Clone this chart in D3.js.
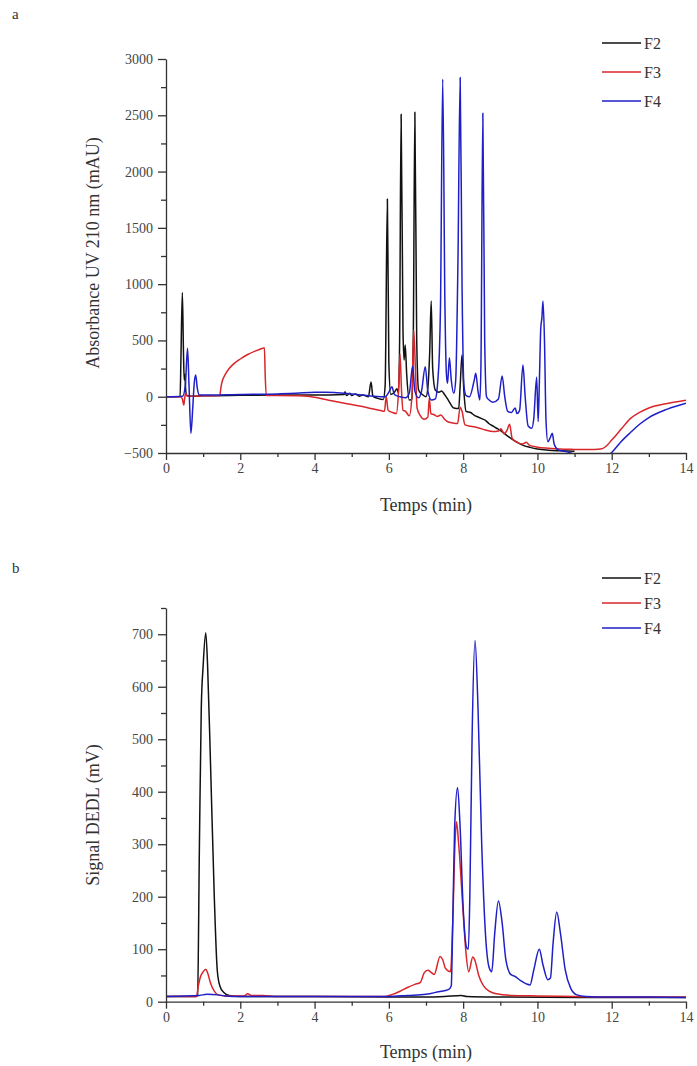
<!DOCTYPE html>
<html><head><meta charset="utf-8">
<script src="https://cdn.jsdelivr.net/npm/d3@7"></script>
<style>body{margin:0;background:#fff}svg{display:block}text{font-family:"Liberation Serif","DejaVu Serif",serif}</style>
</head><body>
<svg id="c" width="697" height="1066"></svg>
<script>
// ---------- DATA ----------
const seriesNames = ["F2", "F3", "F4"];
const seriesColors = ["#111111", "#d8262a", "#1f1fc8"];
const xTicksMajor = [0, 2, 4, 6, 8, 10, 12, 14];
const yTicksA = [-500, 0, 500, 1000, 1500, 2000, 2500, 3000];
const yTicksB = [0, 100, 200, 300, 400, 500, 600, 700];

// Panel a: UV 210 nm (time min, mAU)
const uvF2 = [[0,0],[0.38,2],[0.40,300],[0.44,925],[0.47,400],[0.49,150],[0.51,200],[0.53,60],[0.56,10],[0.7,5],[1,8],[2,12],[3,15],[4,15],[4.8,20],[4.82,45],[4.86,10],[4.95,30],[5.0,10],[5.1,25],[5.2,5],[5.3,15],[5.45,0],[5.52,130],[5.57,5],[5.7,-15],[5.85,-25],[5.9,100],[5.96,1757],[6.0,300],[6.05,20],[6.15,40],[6.22,70],[6.26,30],[6.29,500],[6.33,2510],[6.38,600],[6.41,326],[6.44,460],[6.48,200],[6.55,-30],[6.62,-20],[6.66,600],[6.70,2528],[6.75,500],[6.8,60],[6.9,20],[7.0,0],[7.05,80],[7.1,400],[7.14,851],[7.18,250],[7.25,60],[7.35,40],[7.42,50],[7.5,20],[7.6,-30],[7.75,-100],[7.88,-105],[7.92,100],[7.97,371],[8.02,50],[8.08,-130],[8.2,-140],[8.3,-165],[8.4,-180],[8.5,-195],[8.6,-210],[8.7,-240],[8.8,-260],[8.9,-280],[9.0,-300],[9.2,-350],[9.4,-395],[9.6,-430],[9.8,-450],[10,-465],[10.3,-475],[10.6,-480],[11,-485]];
const uvF3 = [[0,0],[0.4,0],[0.44,-20],[0.48,-74],[0.5,-20],[0.53,30],[0.56,10],[0.6,5],[1.0,8],[1.45,10],[1.47,60],[1.5,120],[1.6,200],[1.7,250],[1.8,285],[2.0,335],[2.2,375],[2.4,405],[2.6,430],[2.65,435],[2.67,200],[2.7,10],[3,10],[3.5,8],[3.8,5],[4.0,-5],[4.3,-25],[4.6,-45],[5.0,-70],[5.4,-95],[5.8,-125],[5.88,-130],[5.93,0],[5.98,-120],[6.1,-140],[6.2,-150],[6.26,50],[6.3,380],[6.34,60],[6.38,-120],[6.45,-130],[6.55,-170],[6.62,0],[6.67,593],[6.72,200],[6.76,-100],[6.85,-170],[6.95,-200],[7.05,-180],[7.09,-12],[7.13,-150],[7.22,-160],[7.3,-175],[7.4,-163],[7.5,-200],[7.6,-225],[7.75,-235],[7.85,-238],[7.92,-93],[7.97,-130],[8.05,-250],[8.2,-262],[8.4,-275],[8.6,-295],[8.8,-310],[8.95,-305],[9.02,-285],[9.1,-330],[9.18,-300],[9.25,-245],[9.32,-370],[9.45,-405],[9.6,-420],[9.7,-405],[9.78,-430],[10,-448],[10.3,-458],[10.6,-465],[11,-468],[11.4,-470],[11.7,-465],[11.85,-440],[12,-385],[12.25,-290],[12.5,-195],[12.75,-140],[13,-100],[13.5,-60],[14,-32]];
const uvF4 = [[0,0],[0.45,5],[0.52,100],[0.58,430],[0.62,100],[0.67,-325],[0.72,-100],[0.76,120],[0.8,193],[0.84,80],[0.9,15],[1.0,15],[2,20],[3,25],[3.5,30],[4.0,40],[4.3,40],[4.6,35],[5.0,25],[5.3,15],[5.6,5],[5.9,0],[6.0,40],[6.08,89],[6.15,20],[6.3,0],[6.45,-10],[6.55,30],[6.64,273],[6.7,50],[6.8,-10],[6.88,50],[6.98,267],[7.05,50],[7.15,-30],[7.25,-20],[7.32,150],[7.36,388],[7.39,800],[7.45,2821],[7.51,800],[7.55,200],[7.58,119],[7.63,347],[7.68,150],[7.75,30],[7.8,150],[7.86,1200],[7.92,2836],[7.97,1000],[8.02,100],[8.08,10],[8.17,0],[8.3,150],[8.34,208],[8.4,50],[8.45,-30],[8.48,300],[8.53,2519],[8.58,500],[8.63,0],[8.7,-30],[8.8,-50],[8.95,-20],[9.05,184],[9.12,0],[9.2,-130],[9.3,-140],[9.4,-100],[9.45,-150],[9.52,-120],[9.61,282],[9.67,0],[9.75,-260],[9.85,-280],[9.9,-200],[9.98,172],[10.02,-220],[10.05,100],[10.09,608],[10.12,700],[10.15,851],[10.19,500],[10.23,-200],[10.28,-400],[10.35,-360],[10.40,-325],[10.45,-420],[10.55,-470],[10.8,-490],[11.0,-510],[11.5,-560],[11.95,-510],[12.0,-495],[12.25,-400],[12.5,-320],[12.75,-245],[13,-185],[13.5,-110],[14,-58]];

// Panel b: ELSD / DEDL (time min, mV)
const elsdF2 = [[0,10],[0.8,10],[0.85,12],[0.9,300],[0.95,560],[1.0,640],[1.07,703],[1.12,640],[1.2,450],[1.3,200],[1.38,60],[1.45,30],[1.55,18],[1.7,12],[2,10],[4,10],[6,9],[7,9],[7.5,10],[7.95,12],[8.1,10],[9,9],[12,8],[14,8]];
const elsdF3 = [[0,10],[0.82,10],[0.87,30],[0.93,48],[1.0,57],[1.07,62],[1.12,55],[1.2,35],[1.3,20],[1.4,13],[1.6,11],[2.1,11],[2.2,15],[2.3,12],[2.6,12],[3,10],[5,10],[5.9,10],[6.1,14],[6.3,20],[6.5,27],[6.7,33],[6.85,37],[6.95,55],[7.05,60],[7.12,57],[7.22,52],[7.38,86],[7.45,80],[7.52,64],[7.66,57],[7.72,150],[7.78,300],[7.82,343],[7.88,300],[7.99,181],[8.08,90],[8.15,57],[8.26,85],[8.32,78],[8.42,50],[8.55,30],[8.7,20],[8.9,15],[9.3,12],[10,11],[11,10],[12,9],[14,9]];
const elsdF4 = [[0,10],[0.9,12],[1.1,14],[1.4,13],[1.6,11],[2,10],[4,10],[6,10],[6.5,12],[7.0,14],[7.34,19],[7.6,23],[7.68,30],[7.72,150],[7.77,330],[7.85,408],[7.92,330],[8.0,180],[8.1,102],[8.14,100],[8.18,200],[8.24,500],[8.32,688],[8.4,560],[8.5,300],[8.6,130],[8.7,65],[8.77,57],[8.85,130],[8.95,192],[9.05,150],[9.15,80],[9.28,52],[9.4,48],[9.55,40],[9.7,34],[9.8,32],[9.9,60],[10.05,100],[10.15,70],[10.28,42],[10.35,45],[10.42,110],[10.52,171],[10.62,130],[10.75,60],[10.9,25],[11.06,13],[11.3,10],[12,9],[13,9],[14,8]];

// ---------- DRAW ----------
const svg = d3.select("#c");
const X0 = 166, X1 = 686;

function panel(opts) {
  const x = d3.scaleLinear([0, 14], [X0, X1]);
  const y = d3.scaleLinear(opts.yDomain, opts.yRange);
  const g = svg.append("g");
  const cid = "clip" + opts.id;
  svg.append("defs").append("clipPath").attr("id", cid)
    .append("rect").attr("x", X0).attr("y", opts.yRange[1])
    .attr("width", X1 - X0).attr("height", opts.yRange[0] - opts.yRange[1]);

  const line = d3.line().x(d => x(d[0])).y(d => y(d[1])).curve(opts.curve);
  const lines = g.append("g").attr("clip-path", `url(#${cid})`);
  opts.data.forEach((s, i) => {
    lines.append("path").attr("d", line(s)).attr("fill", "none")
      .attr("stroke", seriesColors[i]).attr("stroke-width", 1.5)
      .attr("stroke-linejoin", "round");
  });

  // axes
  const axCol = "#333";
  const xMinor = d3.range(1, 14, 2);
  const gx = g.append("g").attr("transform", `translate(0,${opts.yRange[0]})`);
  gx.call(d3.axisBottom(x).tickValues(xTicksMajor).tickSize(7).tickSizeOuter(0).tickPadding(3).tickFormat(d3.format("d")));
  gx.append("g").call(d3.axisBottom(x).tickValues(xMinor).tickSize(4).tickSizeOuter(0).tickFormat(""))
    .select(".domain").remove();
  const gy = g.append("g").attr("transform", `translate(${X0},0)`);
  gy.call(d3.axisLeft(y).tickValues(opts.yTicks).tickSize(8).tickSizeOuter(0).tickPadding(5).tickFormat(d3.format("d")));
  gy.append("g").call(d3.axisLeft(y).tickValues(opts.yMinor).tickSize(5).tickSizeOuter(0).tickFormat(""))
    .select(".domain").remove();
  [gx, gy].forEach(a => {
    a.selectAll("path,line").attr("stroke", axCol).attr("stroke-width", 1.3);
    a.selectAll("text").attr("fill", "#444").style("font-size", "14px")
      .style("font-family", '"Liberation Serif", serif');
  });

  // titles
  g.append("text").attr("x", 426).attr("y", opts.xTitleY).attr("text-anchor", "middle")
    .style("font-size", "18px").attr("fill", "#333").text("Temps (min)");
  g.append("text").attr("transform", `translate(99,${opts.yTitleCY}) rotate(-90)`)
    .attr("text-anchor", "middle").style("font-size", "18px").attr("fill", "#333").text(opts.yTitle);
  g.append("text").attr("x", 12).attr("y", opts.labelY).style("font-size", "15px")
    .attr("fill", "#333").text(opts.label);

  // legend
  seriesNames.forEach((n, i) => {
    const ly = opts.legendY[i];
    g.append("line").attr("x1", 602).attr("x2", 641).attr("y1", ly).attr("y2", ly)
      .attr("stroke", seriesColors[i]).attr("stroke-width", 1.6);
    g.append("text").attr("x", 644).attr("y", ly + 5.5).style("font-size", "16px")
      .attr("fill", "#333").text(n);
  });
}

panel({
  id: "a", data: [uvF2, uvF3, uvF4],
  yDomain: [-500, 3000], yRange: [453, 59],
  yTicks: yTicksA, yMinor: d3.range(-250, 3000, 500),
  curve: d3.curveMonotoneX,
  xTitleY: 511, yTitleCY: 253, yTitle: "Absorbance UV 210 nm (mAU)",
  label: "a", labelY: 19, legendY: [43, 72, 101]
});
panel({
  id: "b", data: [elsdF2, elsdF3, elsdF4],
  yDomain: [0, 750], yRange: [1001.7, 608],
  yTicks: yTicksB, yMinor: d3.range(50, 751, 100),
  curve: d3.curveMonotoneX,
  xTitleY: 1058, yTitleCY: 815, yTitle: "Signal DEDL (mV)",
  label: "b", labelY: 573, legendY: [578, 603, 628]
});
</script>
</body></html>
